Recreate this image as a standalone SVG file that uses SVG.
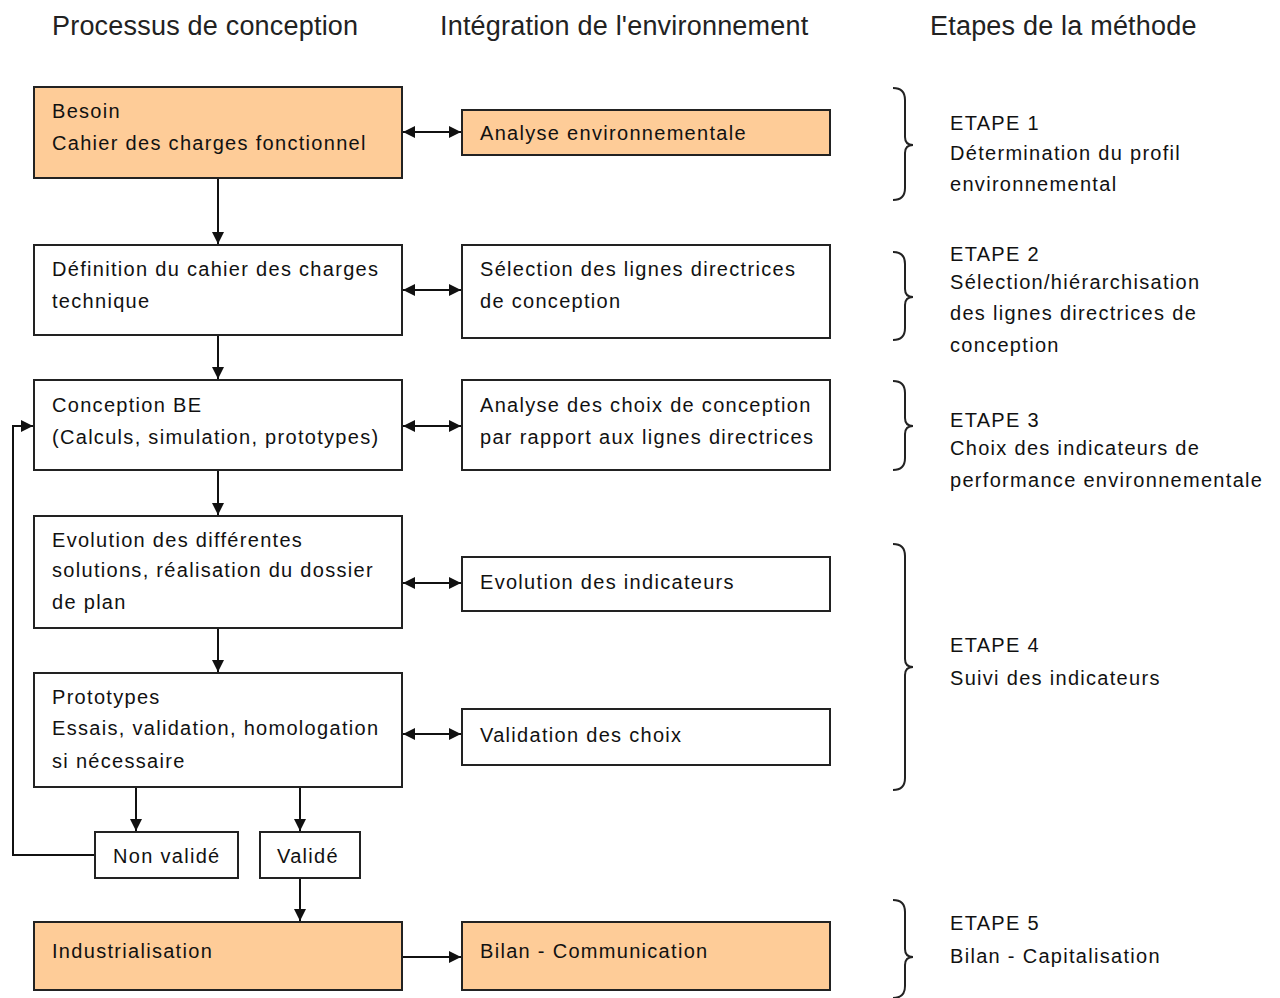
<svg xmlns="http://www.w3.org/2000/svg" width="1280" height="998" viewBox="0 0 1280 998">
<style>
.hdr{font-family:"Liberation Sans",Arial,sans-serif;font-size:27px;fill:#222;letter-spacing:0.2px}
.t{font-family:"Liberation Sans",Arial,sans-serif;font-size:20px;fill:#111;letter-spacing:1.3px}
.box{stroke:#222;stroke-width:2;fill:#fff}
.org{fill:#FECC98}
.ln{stroke:#111;stroke-width:2;fill:none}
.br{stroke:#222;stroke-width:2;fill:none}
</style>
<defs>
<marker id="ah" viewBox="0 0 12 12" refX="12" refY="6" markerWidth="12" markerHeight="12" markerUnits="userSpaceOnUse" orient="auto-start-reverse">
<path d="M0,0 L12,6 L0,12 z" fill="#111"/>
</marker>
</defs>
<rect width="1280" height="998" fill="#fff"/>
<g id="headers">
<text class="hdr" x="52" y="35">Processus de conception</text>
<text class="hdr" x="440" y="35">Intégration de l'environnement</text>
<text class="hdr" x="930" y="35">Etapes de la méthode</text>
</g>
<g id="connectors">
<line class="ln" x1="403" y1="132" x2="461" y2="132" marker-start="url(#ah)" marker-end="url(#ah)"/>
<line class="ln" x1="403" y1="290" x2="461" y2="290" marker-start="url(#ah)" marker-end="url(#ah)"/>
<line class="ln" x1="403" y1="426" x2="461" y2="426" marker-start="url(#ah)" marker-end="url(#ah)"/>
<line class="ln" x1="403" y1="583" x2="461" y2="583" marker-start="url(#ah)" marker-end="url(#ah)"/>
<line class="ln" x1="403" y1="734" x2="461" y2="734" marker-start="url(#ah)" marker-end="url(#ah)"/>
<line class="ln" x1="403" y1="957" x2="461" y2="957" marker-end="url(#ah)"/>
<line class="ln" x1="218" y1="178" x2="218" y2="244" marker-end="url(#ah)"/>
<line class="ln" x1="218" y1="335" x2="218" y2="379" marker-end="url(#ah)"/>
<line class="ln" x1="218" y1="470" x2="218" y2="515" marker-end="url(#ah)"/>
<line class="ln" x1="218" y1="628" x2="218" y2="672" marker-end="url(#ah)"/>
<line class="ln" x1="136" y1="787" x2="136" y2="831" marker-end="url(#ah)"/>
<line class="ln" x1="300" y1="787" x2="300" y2="831" marker-end="url(#ah)"/>
<line class="ln" x1="300" y1="878" x2="300" y2="921" marker-end="url(#ah)"/>
<polyline class="ln" points="95,855 13,855 13,426 33,426" marker-end="url(#ah)"/>
</g>
<g id="n-besoin"><rect class="box org" x="34" y="87" width="368" height="91"/>
<text class="t" x="52" y="118">Besoin</text><text class="t" x="52" y="150">Cahier des charges fonctionnel</text></g>
<g id="n-analyse-env"><rect class="box org" x="462" y="110" width="368" height="45"/>
<text class="t" x="480" y="140">Analyse environnementale</text></g>
<g id="n-definition"><rect class="box" x="34" y="245" width="368" height="90"/>
<text class="t" x="52" y="276">Définition du cahier des charges</text><text class="t" x="52" y="308">technique</text></g>
<g id="n-selection"><rect class="box" x="462" y="245" width="368" height="93"/>
<text class="t" x="480" y="276">Sélection des lignes directrices</text><text class="t" x="480" y="308">de conception</text></g>
<g id="n-conception"><rect class="box" x="34" y="380" width="368" height="90"/>
<text class="t" x="52" y="412">Conception BE</text><text class="t" x="52" y="444">(Calculs, simulation, prototypes)</text></g>
<g id="n-analyse-choix"><rect class="box" x="462" y="380" width="368" height="90"/>
<text class="t" x="480" y="412">Analyse des choix de conception</text><text class="t" x="480" y="444">par rapport aux lignes directrices</text></g>
<g id="n-evolution"><rect class="box" x="34" y="516" width="368" height="112"/>
<text class="t" x="52" y="547">Evolution des différentes</text><text class="t" x="52" y="577">solutions, réalisation du dossier</text><text class="t" x="52" y="609">de plan</text></g>
<g id="n-evol-ind"><rect class="box" x="462" y="557" width="368" height="54"/>
<text class="t" x="480" y="589">Evolution des indicateurs</text></g>
<g id="n-prototypes"><rect class="box" x="34" y="673" width="368" height="114"/>
<text class="t" x="52" y="704">Prototypes</text><text class="t" x="52" y="735">Essais, validation, homologation</text><text class="t" x="52" y="768">si nécessaire</text></g>
<g id="n-validation"><rect class="box" x="462" y="709" width="368" height="56"/>
<text class="t" x="480" y="742">Validation des choix</text></g>
<g id="n-nonvalide"><rect class="box" x="95" y="832" width="143" height="46"/>
<text class="t" x="113" y="863">Non validé</text></g>
<g id="n-valide"><rect class="box" x="260" y="832" width="100" height="46"/>
<text class="t" x="277" y="863">Validé</text></g>
<g id="n-industrialisation"><rect class="box org" x="34" y="922" width="368" height="68"/>
<text class="t" x="52" y="958">Industrialisation</text></g>
<g id="n-bilan"><rect class="box org" x="462" y="922" width="368" height="68"/>
<text class="t" x="480" y="958">Bilan - Communication</text></g>
<g id="braces">
<path class="br" d="M893,88 Q905,88 905,100 L905,137 Q905,145 913,145 Q905,145 905,153 L905,188 Q905,200 893,200"/>
<path class="br" d="M893,252 Q905,252 905,264 L905,289 Q905,297 913,297 Q905,297 905,305 L905,328 Q905,340 893,340"/>
<path class="br" d="M893,381 Q905,381 905,393 L905,418 Q905,426 913,426 Q905,426 905,434 L905,458 Q905,470 893,470"/>
<path class="br" d="M893,544 Q905,544 905,556 L905,659 Q905,667 913,667 Q905,667 905,675 L905,778 Q905,790 893,790"/>
<path class="br" d="M893,900 Q905,900 905,912 L905,949 Q905,957 913,957 Q905,957 905,965 L905,986 Q905,998 893,998"/>
</g>
<g id="etapes">
<text class="t" x="950" y="130">ETAPE 1</text>
<text class="t" x="950" y="160">Détermination du profil</text>
<text class="t" x="950" y="191">environnemental</text>
<text class="t" x="950" y="261">ETAPE 2</text>
<text class="t" x="950" y="289">Sélection/hiérarchisation</text>
<text class="t" x="950" y="320">des lignes directrices de</text>
<text class="t" x="950" y="352">conception</text>
<text class="t" x="950" y="427">ETAPE 3</text>
<text class="t" x="950" y="455">Choix des indicateurs de</text>
<text class="t" x="950" y="487">performance environnementale</text>
<text class="t" x="950" y="652">ETAPE 4</text>
<text class="t" x="950" y="685">Suivi des indicateurs</text>
<text class="t" x="950" y="930">ETAPE 5</text>
<text class="t" x="950" y="963">Bilan - Capitalisation</text>
</g>
</svg>
